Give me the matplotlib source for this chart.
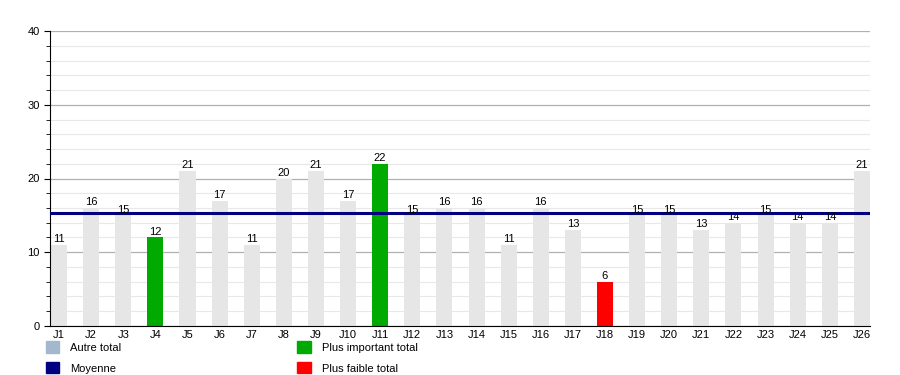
import matplotlib.pyplot as plt
import numpy as np
from matplotlib.patches import Patch
from matplotlib.ticker import MultipleLocator

plt.rcParams['font.family'] = ['Liberation Sans', 'DejaVu Sans']

labels = [f"J{i}" for i in range(1, 27)]
totals = [11, 16, 15, 12, 21, 17, 11, 20, 21, 17, 22, 15, 16,
          16, 11, 16, 13, 6, 15, 15, 13, 14, 15, 14, 14, 21]

grey = "#e6e6e6"
green = "#00aa00"
red = "#ff0000"
navy = "#000080"
other = "#a3b8cc"


def main():
    fig = plt.figure(figsize=(9, 3.75), dpi=100)
    ax = fig.add_axes([0.0556, 0.131, 0.911, 0.786])

    x = np.arange(len(totals))
    vals = np.array(totals)
    colors = [grey] * len(totals)
    colors[int(np.argmax(vals))] = green
    colors[int(np.argmin(vals))] = red
    colors[3] = green  # J4 highlighted in the source too

    ax.bar(x, vals, width=0.5, color=colors, zorder=2)
    for xi, v in zip(x, vals):
        ax.text(xi, v + 0.1, str(v), ha="center", va="bottom", fontsize=8, zorder=4)

    mean = vals.mean()
    ax.axhline(mean, color=navy, lw=2.2, zorder=3)

    ax.set_xlim(-0.28, len(totals) - 0.75)
    ax.set_ylim(0, 40)
    ax.yaxis.set_major_locator(MultipleLocator(10))
    ax.yaxis.set_minor_locator(MultipleLocator(2))
    ax.grid(which="major", axis="y", color="#b0b0b0", lw=0.9, zorder=0)
    ax.grid(which="minor", axis="y", color="#e8e8e8", lw=0.8, zorder=0)
    ax.set_xticks(x)
    ax.set_xticklabels(labels, fontsize=8)
    ax.tick_params(axis="x", length=0, pad=3)
    ax.tick_params(axis="y", which="major", length=4, labelsize=8)
    ax.tick_params(axis="y", which="minor", length=3)
    for s in ("top", "right"):
        ax.spines[s].set_visible(False)

    handles = [Patch(color=other, label="Autre total"),
               Patch(color=navy, label="Moyenne"),
               Patch(color=green, label="Plus important total"),
               Patch(color=red, label="Plus faible total")]
    fig.legend(handles=handles, ncol=2, loc="upper left",
               bbox_to_anchor=(0.045, 0.105), frameon=False, fontsize=8,
               handlelength=1.2, handleheight=1.2, handletextpad=1.0,
               columnspacing=15.8, labelspacing=0.85, borderpad=0)

    fig.savefig("out.png", dpi=100)


if __name__ == "__main__":
    main()
